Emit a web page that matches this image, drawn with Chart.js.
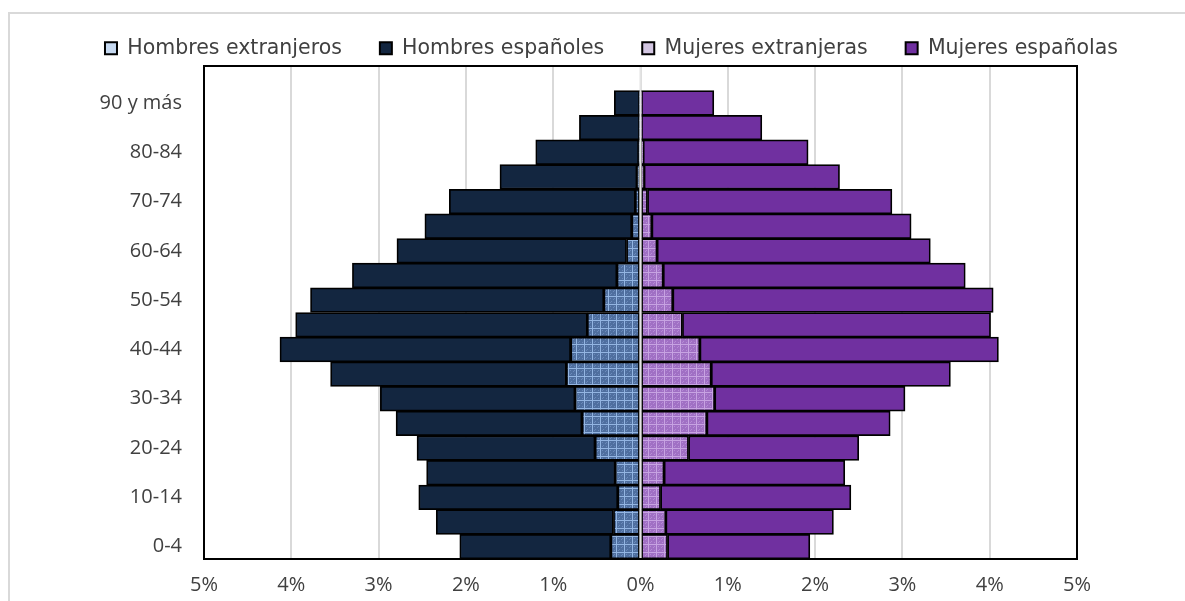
<!DOCTYPE html>
<html lang="es">
<head>
<meta charset="utf-8">
<title>Pirámide de población</title>
<script src="https://cdn.jsdelivr.net/npm/chart.js@4/dist/chart.umd.min.js"></script>
<style>
    html, body { margin: 0; padding: 0; background: #ffffff; overflow: hidden; }
    #frame {
        position: absolute; left: 8px; top: 12px;
        width: 1300px; height: 700px;
        border: 2px solid #d9d9d9;
    }
    #wrap { position: absolute; left: 0; top: 0; width: 1185px; height: 601px; }
</style>
</head>
<body>
<div id="frame"></div>
<div id="wrap"><canvas id="pyramid"></canvas></div>
<script>
// Age groups, top of the pyramid first
const ageGroups = ['90 y más', '85-89', '80-84', '75-79', '70-74', '65-69', '60-64', '55-59',
    '50-54', '45-49', '40-44', '35-39', '30-34', '25-29', '20-24', '15-19', '10-14', '5-9', '0-4'];

// Share of total population (%), same order as ageGroups
const menForeign   = [0.01, 0.01, 0.02, 0.04, 0.06, 0.10, 0.16, 0.27, 0.42, 0.61, 0.80, 0.85, 0.75, 0.67, 0.52, 0.29, 0.26, 0.31, 0.34];
const menSpanish   = [0.29, 0.69, 1.18, 1.57, 2.13, 2.37, 2.63, 3.03, 3.36, 3.34, 3.33, 2.70, 2.23, 2.13, 2.04, 2.16, 2.28, 2.03, 1.73];
const womenForeign = [0.01, 0.01, 0.03, 0.04, 0.08, 0.13, 0.19, 0.26, 0.37, 0.48, 0.68, 0.81, 0.85, 0.76, 0.55, 0.27, 0.23, 0.29, 0.31];
const womenSpanish = [0.83, 1.38, 1.89, 2.24, 2.80, 2.97, 3.13, 3.46, 3.67, 3.53, 3.42, 2.74, 2.18, 2.10, 1.95, 2.07, 2.18, 1.92, 1.63];

const seriesNames = ['Hombres extranjeros', 'Hombres españoles', 'Mujeres extranjeras', 'Mujeres españolas'];
const xTicks = [-5, -4, -3, -2, -1, 0, 1, 2, 3, 4, 5];

// small grid texture like the Excel pattern fill
function makePattern(base, line, dot) {
    const c = document.createElement('canvas');
    c.width = 8; c.height = 8;
    const g = c.getContext('2d');
    g.fillStyle = base;
    g.fillRect(0, 0, 8, 8);
    g.fillStyle = dot;
    [[2, 2], [5, 3], [3, 5], [6, 6], [2, 6], [6, 2]].forEach(p => g.fillRect(p[0], p[1], 1, 1));
    g.fillStyle = line;
    g.fillRect(0, 0, 8, 1);
    g.fillRect(0, 0, 1, 8);
    return g.createPattern(c, 'repeat');
}

const canvas = document.getElementById('pyramid');
const ctx = canvas.getContext('2d');

const menForeignFill = makePattern('#4f6f9f', '#93b5e2', '#6a8abb');
const womenForeignFill = makePattern('#a070c4', '#c7a3e2', '#b68bd6');

// one blank category on top, as in the original
const labels = [''].concat(ageGroups);
const pad = arr => [null].concat(arr);
const neg = arr => arr.map(v => -v);

const legendFills = ['#c6d9f1', '#132640', '#d3c6e2', '#7030a0'];

// light vertical line at 0 over the bars and black frame round the plot
const overlay = {
    id: 'overlay',
    afterLayout(chart) {
        // legend sits a bit right of the canvas centre and higher up
        const lg = chart.legend;
        lg.left += 19; lg.right += 19;
        lg.top -= 0; lg.bottom -= 0;
    },
    afterDatasetsDraw(chart) {
        const c = chart.ctx;
        const area = chart.chartArea;
        const x0 = chart.scales.x.getPixelForValue(0);
        c.save();
        c.strokeStyle = '#e3e3e3';
        c.lineWidth = 2;
        c.beginPath();
        c.moveTo(x0, area.top);
        c.lineTo(x0, area.bottom);
        c.stroke();
        c.strokeStyle = '#000000';
        c.lineWidth = 2;
        c.strokeRect(area.left, area.top, area.right - area.left, area.bottom - area.top);
        c.restore();
    }
};

const barStyle = {
    borderColor: '#000000',
    borderWidth: 1.75,
    borderSkipped: false,
    barPercentage: 1,
    categoryPercentage: 1
};

new Chart(ctx, {
    type: 'bar',
    data: {
        labels: labels,
        datasets: [
            Object.assign({ label: seriesNames[0], data: pad(neg(menForeign)), backgroundColor: menForeignFill }, barStyle),
            Object.assign({ label: seriesNames[1], data: pad(neg(menSpanish)), backgroundColor: '#132640' }, barStyle),
            Object.assign({ label: seriesNames[2], data: pad(womenForeign), backgroundColor: womenForeignFill }, barStyle),
            Object.assign({ label: seriesNames[3], data: pad(womenSpanish), backgroundColor: '#7030a0' }, barStyle)
        ]
    },
    options: {
        indexAxis: 'y',
        responsive: true,
        maintainAspectRatio: false,
        animation: false,
        layout: { padding: { left: 0, right: 0, top: 0, bottom: 0 } },
        scales: {
            x: {
                stacked: true,
                min: -5,
                max: 5,
                afterBuildTicks: scale => { scale.ticks = xTicks.map(v => ({ value: v })); },
                afterFit: scale => { scale.height = 42; },
                border: { display: false },
                grid: { color: '#d9d9d9', lineWidth: 2, drawTicks: false },
                ticks: {
                    padding: 14,
                    color: '#404040',
                    font: { family: 'Open Sans', size: 20 },
                    callback: v => Math.abs(v) + '%'
                }
            },
            y: {
                stacked: true,
                afterFit: scale => { scale.width = 204; },
                border: { display: false },
                grid: { display: false, drawTicks: false },
                ticks: {
                    autoSkip: false,
                    padding: 22,
                    color: '#404040',
                    font: { family: 'Open Sans', size: 20 },
                    callback: function (v, i) {
                        return (labels.length - 1 - i) % 2 === 0 ? labels[i] : '';
                    }
                }
            },
            // empty axis that only reserves the white band on the right
            yRight: {
                type: 'linear',
                position: 'right',
                afterFit: scale => { scale.width = 108; },
                border: { display: false },
                grid: { display: false, drawTicks: false },
                ticks: { display: false }
            }
        },
        plugins: {
            legend: {
                position: 'top',
                maxHeight: 66,
                labels: {
                    boxWidth: 12,
                    boxHeight: 12,
                    padding: 38,
                    color: '#404040',
                    font: { family: 'DejaVu Sans', size: 20.5 },
                    generateLabels: chart => chart.data.datasets.map((ds, i) => ({
                        text: ds.label,
                        fillStyle: legendFills[i],
                        strokeStyle: '#000000',
                        lineWidth: 2,
                        fontColor: '#404040',
                        hidden: false,
                        datasetIndex: i
                    }))
                }
            },
            tooltip: { enabled: false }
        }
    },
    plugins: [overlay]
});
</script>
</body>
</html>
